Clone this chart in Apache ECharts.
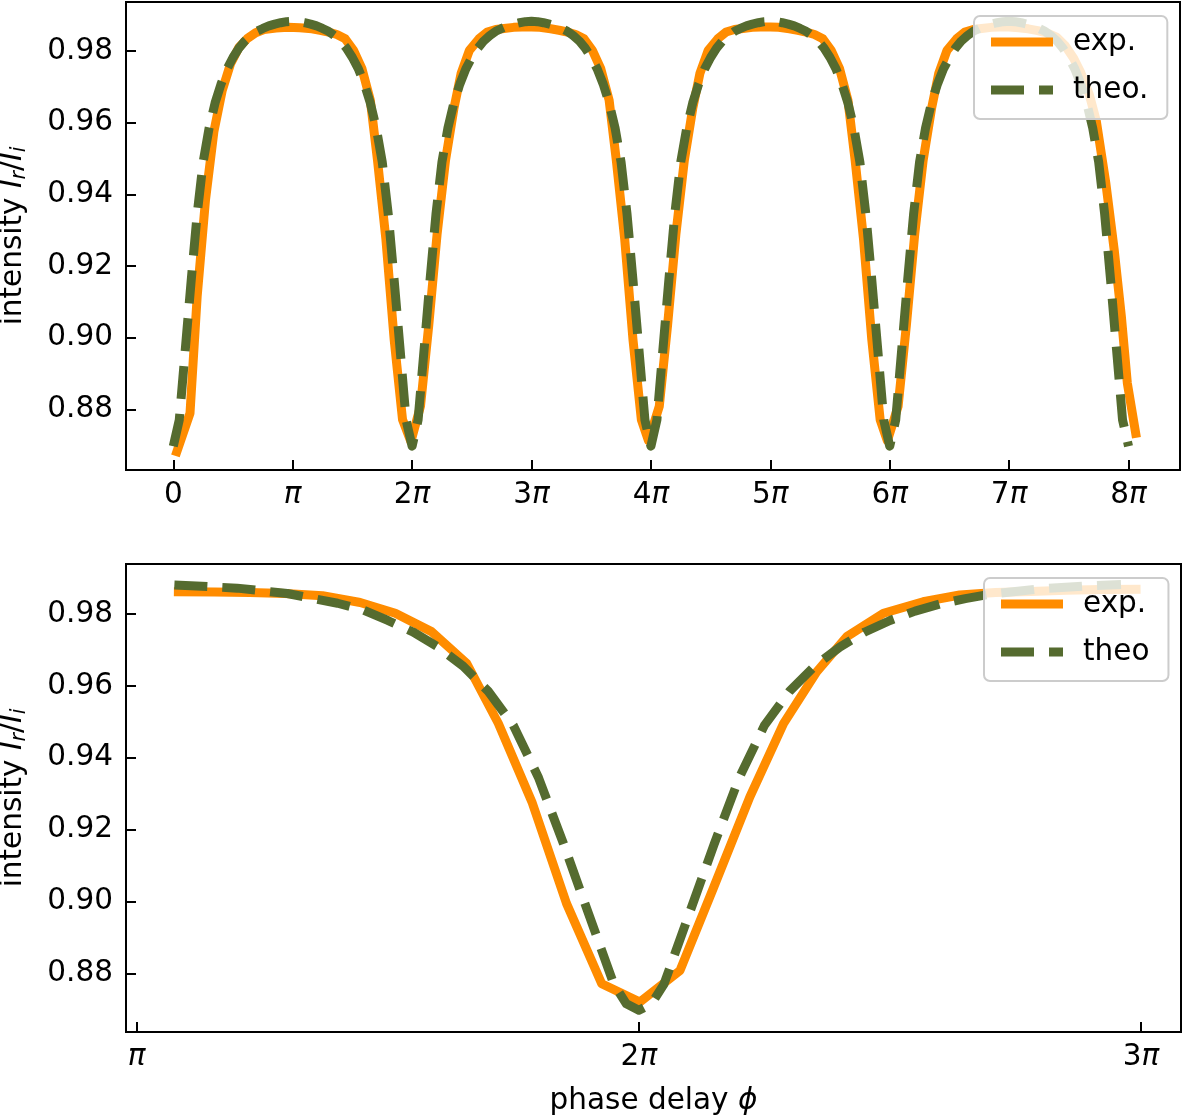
<!DOCTYPE html>
<html>
<head>
<meta charset="utf-8">
<script src="https://cdn.jsdelivr.net/npm/echarts@6/dist/echarts.min.js"></script>
<style>
html,body{margin:0;padding:0;background:#fff;}
#chart{width:1183px;height:1115px;}
</style>
</head>
<body>
<div id="chart"></div>
<script>
// phase in units of pi, intensity I_r/I_i
const topExp = [
[0.03,0.8682],[0.14,0.8789],[0.20,0.9115],[0.27,0.9385],[0.34,0.9575],[0.41,0.9690],[0.48,0.9765],[0.55,0.9810],[0.62,0.9835],[0.69,0.9851],[0.76,0.9860],[0.86,0.9864],[0.96,0.9866],[1.06,0.9865],[1.16,0.9862],[1.23,0.9858],[1.30,0.9853],[1.37,0.9846],[1.44,0.9834],[1.51,0.9802],[1.58,0.9751],[1.65,0.9663],[1.71,0.9496],[1.78,0.9277],[1.85,0.8994],[1.92,0.8771],[1.99,0.8710],
[2.07,0.8808],[2.14,0.9036],[2.21,0.9291],[2.28,0.9495],[2.35,0.9639],[2.41,0.9737],[2.48,0.9802],[2.56,0.9834],[2.63,0.9853],[2.70,0.9860],[2.77,0.9863],[2.85,0.9866],[2.92,0.9867],[3.00,0.9867],[3.07,0.9866],[3.16,0.9862],[3.23,0.9858],[3.30,0.9853],[3.37,0.9846],[3.44,0.9834],[3.51,0.9802],[3.58,0.9751],[3.65,0.9663],[3.71,0.9496],[3.78,0.9277],[3.85,0.8994],[3.92,0.8771],[3.98,0.8712],
[4.07,0.8808],[4.14,0.9036],[4.21,0.9291],[4.28,0.9495],[4.35,0.9639],[4.41,0.9737],[4.48,0.9802],[4.56,0.9834],[4.63,0.9853],[4.70,0.9860],[4.77,0.9863],[4.85,0.9866],[4.92,0.9867],[5.00,0.9867],[5.07,0.9866],[5.16,0.9862],[5.23,0.9858],[5.30,0.9853],[5.37,0.9846],[5.44,0.9834],[5.51,0.9802],[5.58,0.9751],[5.65,0.9663],[5.71,0.9496],[5.78,0.9277],[5.85,0.8994],[5.92,0.8771],[5.98,0.8712],
[6.07,0.8808],[6.14,0.9036],[6.21,0.9291],[6.28,0.9495],[6.35,0.9639],[6.41,0.9737],[6.48,0.9802],[6.56,0.9834],[6.63,0.9853],[6.70,0.9860],[6.77,0.9863],[6.85,0.9866],[6.92,0.9867],[7.00,0.9867],[7.08,0.9865],[7.16,0.9862],[7.24,0.9857],[7.32,0.9850],[7.40,0.9838],[7.47,0.9815],[7.54,0.9780],[7.60,0.9740],[7.67,0.9680],[7.73,0.9605],[7.81,0.9431],[7.88,0.9245],[7.94,0.9059],[7.99,0.8873],[8.06,0.8733]
];

const topTheo = [
[0.00,0.8697],[0.05,0.8770],[0.10,0.8965],[0.15,0.9160],[0.20,0.9345],[0.25,0.9490],[0.30,0.9585],[0.35,0.9655],[0.40,0.9708],[0.45,0.9750],[0.50,0.9782],[0.55,0.9808],[0.60,0.9828],[0.65,0.9843],[0.70,0.9855],[0.75,0.9863],[0.80,0.9870],[0.85,0.9875],[0.90,0.9879],[0.95,0.9882],[1.00,0.9883],[1.05,0.9882],[1.10,0.9879],[1.15,0.9875],[1.20,0.9870],[1.25,0.9863],[1.30,0.9855],[1.35,0.9843],[1.40,0.9828],[1.45,0.9808],[1.50,0.9782],[1.55,0.9750],[1.60,0.9708],[1.65,0.9655],[1.70,0.9585],[1.75,0.9490],[1.80,0.9345],[1.85,0.9160],[1.90,0.8965],[1.95,0.8770],
[2.00,0.8697],[2.05,0.8770],[2.10,0.8965],[2.15,0.9160],[2.20,0.9345],[2.25,0.9490],[2.30,0.9585],[2.35,0.9655],[2.40,0.9708],[2.45,0.9750],[2.50,0.9782],[2.55,0.9808],[2.60,0.9828],[2.65,0.9843],[2.70,0.9855],[2.75,0.9863],[2.80,0.9870],[2.85,0.9875],[2.90,0.9879],[2.95,0.9882],[3.00,0.9883],[3.05,0.9882],[3.10,0.9879],[3.15,0.9875],[3.20,0.9870],[3.25,0.9863],[3.30,0.9855],[3.35,0.9843],[3.40,0.9828],[3.45,0.9808],[3.50,0.9782],[3.55,0.9750],[3.60,0.9708],[3.65,0.9655],[3.70,0.9585],[3.75,0.9490],[3.80,0.9345],[3.85,0.9160],[3.90,0.8965],[3.95,0.8770],
[4.00,0.8697],[4.05,0.8770],[4.10,0.8965],[4.15,0.9160],[4.20,0.9345],[4.25,0.9490],[4.30,0.9585],[4.35,0.9655],[4.40,0.9708],[4.45,0.9750],[4.50,0.9782],[4.55,0.9808],[4.60,0.9828],[4.65,0.9843],[4.70,0.9855],[4.75,0.9863],[4.80,0.9870],[4.85,0.9875],[4.90,0.9879],[4.95,0.9882],[5.00,0.9883],[5.05,0.9882],[5.10,0.9879],[5.15,0.9875],[5.20,0.9870],[5.25,0.9863],[5.30,0.9855],[5.35,0.9843],[5.40,0.9828],[5.45,0.9808],[5.50,0.9782],[5.55,0.9750],[5.60,0.9708],[5.65,0.9655],[5.70,0.9585],[5.75,0.9490],[5.80,0.9345],[5.85,0.9160],[5.90,0.8965],[5.95,0.8770],
[6.00,0.8697],[6.05,0.8770],[6.10,0.8965],[6.15,0.9160],[6.20,0.9345],[6.25,0.9490],[6.30,0.9585],[6.35,0.9655],[6.40,0.9708],[6.45,0.9750],[6.50,0.9782],[6.55,0.9808],[6.60,0.9828],[6.65,0.9843],[6.70,0.9855],[6.75,0.9863],[6.80,0.9870],[6.85,0.9875],[6.90,0.9879],[6.95,0.9882],[7.00,0.9883],[7.05,0.9882],[7.10,0.9879],[7.15,0.9875],[7.20,0.9870],[7.25,0.9863],[7.30,0.9855],[7.35,0.9843],[7.40,0.9828],[7.45,0.9808],[7.50,0.9782],[7.55,0.9750],[7.60,0.9708],[7.65,0.9655],[7.70,0.9585],[7.75,0.9490],[7.80,0.9345],[7.85,0.9160],[7.90,0.8965],[7.95,0.8770],
[8.00,0.8697]
];

const bottomExp = [
[1.083,0.9862],[1.155,0.9861],[1.225,0.9860],[1.295,0.9857],[1.37,0.9851],[1.445,0.9832],[1.515,0.9802],[1.587,0.9751],[1.657,0.9663],[1.72,0.9496],[1.787,0.9277],[1.856,0.8994],[1.926,0.8771],[2.002,0.8720],[2.082,0.8808],[2.148,0.9036],[2.221,0.9291],[2.288,0.9495],[2.354,0.9639],[2.414,0.9737],[2.487,0.9802],[2.566,0.9834],[2.639,0.9853],[2.71,0.9860],[2.78,0.9863],[2.85,0.9866],[2.92,0.9868],[2.99,0.9869]
];

const bottomTheo = [
[1.075,0.9881],[1.2,0.9872],[1.3,0.9857],[1.4,0.9830],[1.45,0.9812],[1.5,0.9782],[1.55,0.9750],[1.6,0.9708],[1.65,0.9655],[1.7,0.9585],[1.75,0.9490],[1.8,0.9345],[1.85,0.9160],[1.9,0.8965],[1.95,0.8770],[1.975,0.8715],[2.0,0.8697],[2.025,0.8715],[2.05,0.8770],[2.1,0.8965],[2.15,0.9160],[2.2,0.9345],[2.25,0.9490],[2.3,0.9585],[2.35,0.9655],[2.4,0.9708],[2.45,0.9750],[2.5,0.9782],[2.55,0.9808],[2.6,0.9828],[2.65,0.9843],[2.7,0.9855],[2.8,0.9870],[2.9,0.9879],[2.96,0.9882]
];

const topXTicks = [0,1,2,3,4,5,6,7,8];
const bottomXTicks = [1,2,3];
const yTicks = [0.88,0.90,0.92,0.94,0.96,0.98];
const topLegendNames = ['exp.','theo.'];
const bottomLegendNames = ['exp.','theo'];

const FONT = 'DejaVu Sans';
const FS = 29.5;
const ORANGE = '#FF8C00';
const GREEN = '#556B2F';

function piLabel(v){
  const n = Math.round(v);
  if (n === 0) return '0';
  if (n === 1) return '{p|π}';
  return n + '{p|π}';
}

function xAxisCfg(gi, min, max, ticks, withName){
  const c = {
    type:'value', gridIndex:gi, min:min, max:max,
    axisLine:{show:false, onZero:false}, splitLine:{show:false},
    axisTick:{show:true, inside:true, length:10, lineStyle:{color:'#000', width:2}, customValues:ticks},
    axisLabel:{show:true, customValues:ticks, formatter:piLabel, margin:10, color:'#000',
      fontSize:FS, fontFamily:FONT,
      rich:{p:{fontStyle:'italic', fontSize:FS, fontFamily:FONT, color:'#000'}}}
  };
  if (withName){
    c.name = '{a|phase delay }{it|ϕ}';
    c.nameLocation = 'middle';
    c.nameGap = 54;
    c.nameTextStyle = {color:'#000', fontSize:FS, fontFamily:FONT,
      rich:{a:{fontSize:FS, fontFamily:FONT, color:'#000'}, it:{fontSize:FS, fontFamily:FONT, fontStyle:'italic', color:'#000'}}};
  }
  return c;
}

function yAxisCfg(gi, min, max){
  return {
    type:'value', gridIndex:gi, min:min, max:max,
    axisLine:{show:false, onZero:false}, splitLine:{show:false},
    axisTick:{show:true, inside:true, length:10, lineStyle:{color:'#000', width:2}, customValues:yTicks},
    axisLabel:{show:true, customValues:yTicks, formatter:(v)=>v.toFixed(2), margin:13, color:'#000', fontSize:FS, fontFamily:FONT},
    name:'{a|intensity }{it|I}{sub|r}{a|/}{it|I}{sub|i}',
    nameLocation:'middle', nameGap:96,
    nameTextStyle:{color:'#000', fontSize:FS, fontFamily:FONT,
      rich:{
        a:{fontSize:FS, fontFamily:FONT, color:'#000', lineHeight:34, verticalAlign:'middle'},
        it:{fontSize:FS, fontFamily:FONT, fontStyle:'italic', color:'#000', lineHeight:34, verticalAlign:'middle'},
        sub:{fontSize:20.5, fontFamily:FONT, fontStyle:'italic', color:'#000', lineHeight:20, verticalAlign:'bottom'}
      }}
  };
}

function legendCfg(names, left, top){
  return {
    data:names, orient:'vertical', left:left, top:top,
    itemWidth:62, itemHeight:14, itemGap:14,
    padding:[9,19,12,12.5],
    backgroundColor:'rgba(255,255,255,0.8)', borderColor:'#cccccc', borderWidth:2, borderRadius:6,
    itemStyle:{opacity:0, borderWidth:0},
    lineStyle:{width:9, type:'inherit', color:'inherit', cap:'butt'},
    textStyle:{color:'#000', fontSize:FS, fontFamily:FONT, lineHeight:34, padding:[0,0,0,15]},
    selectedMode:false
  };
}

function expSeries(data, xi, yi){
  return {name:'exp.', type:'line', xAxisIndex:xi, yAxisIndex:yi, data:data,
    symbol:'none', showSymbol:false, smooth:false,
    lineStyle:{color:ORANGE, width:9, cap:'square', join:'round'}, itemStyle:{color:ORANGE}, z:2};
}
function theoSeries(name, data, xi, yi){
  return {name:name, type:'line', xAxisIndex:xi, yAxisIndex:yi, data:data,
    symbol:'none', showSymbol:false, smooth:false,
    lineStyle:{color:GREEN, width:9, type:[33,15], cap:'butt', join:'round'}, itemStyle:{color:GREEN}, z:3};
}

const chart = echarts.init(document.getElementById('chart'), null, {renderer:'canvas'});
chart.setOption({
  animation:false,
  backgroundColor:'#fff',
  grid:[
    {left:126, top:2, width:1054, height:468, show:true, borderColor:'#000', borderWidth:2, backgroundColor:'transparent', outerBoundsMode:'none', containLabel:false},
    {left:126, top:564, width:1055, height:468, show:true, borderColor:'#000', borderWidth:2, backgroundColor:'transparent', outerBoundsMode:'none', containLabel:false}
  ],
  xAxis:[
    xAxisCfg(0, -0.396, 8.431, topXTicks, false),
    xAxisCfg(1, 0.9787, 3.0795, bottomXTicks, true)
  ],
  yAxis:[
    yAxisCfg(0, 0.86306, 0.99368),
    yAxisCfg(1, 0.86366, 0.99392)
  ],
  legend:[
    legendCfg(topLegendNames, 974, 16),
    legendCfg(bottomLegendNames, 984, 578)
  ],
  series:[
    expSeries(topExp, 0, 0),
    theoSeries('theo.', topTheo, 0, 0),
    expSeries(bottomExp, 1, 1),
    theoSeries('theo', bottomTheo, 1, 1)
  ]
});
</script>
</body>
</html>
